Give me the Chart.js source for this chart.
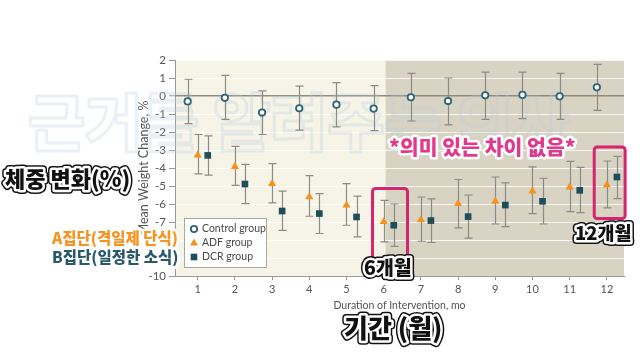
<!DOCTYPE html>
<html><head><meta charset="utf-8">
<script src="https://cdn.jsdelivr.net/npm/chart.js@4.4.1/dist/chart.umd.min.js"></script>
<style>html,body{margin:0;padding:0;background:#fff;}#wrap{width:640px;height:360px;position:relative;}</style>
</head><body><div id="wrap"><canvas id="c" width="640" height="360"></canvas></div>
<script>
const months = [1,2,3,4,5,6,7,8,9,10,11,12];
const seriesNames = ['Control group','ADF group','DCR group'];
const ctrlMean = [-0.3,-0.1,-0.92,-0.68,-0.48,-0.7,-0.07,-0.28,0.04,0.06,-0.02,0.48];
const ctrlLow  = [-1.53,-1.3,-2.14,-1.9,-1.72,-1.92,-1.39,-1.6,-1.3,-1.26,-1.3,-0.8];
const ctrlHigh = [0.93,1.15,0.28,0.55,0.74,0.58,1.26,1.0,1.33,1.33,1.26,1.76];
const adfMean = [-3.29,-3.92,-4.87,-5.61,-6.06,-6.98,-6.89,-5.98,-5.85,-5.28,-5.07,-4.94];
const adfLow  = [-4.33,-4.96,-5.94,-6.68,-7.18,-8.1,-8.07,-7.33,-7.11,-6.53,-6.42,-6.22];
const adfHigh = [-2.14,-2.8,-3.76,-4.42,-4.87,-5.8,-5.61,-4.64,-4.5,-3.94,-3.63,-3.61];
const dcrMean = [-3.3,-4.89,-6.39,-6.53,-6.72,-7.18,-6.92,-6.7,-6.06,-5.85,-5.24,-4.5];
const dcrLow  = [-4.4,-5.98,-7.46,-7.64,-7.83,-8.35,-8.14,-7.9,-7.26,-7.11,-6.48,-5.7];
const dcrHigh = [-2.22,-3.8,-5.28,-5.42,-5.56,-6.0,-5.72,-5.5,-4.83,-4.57,-3.96,-3.35];
const groupOffsets = [-0.27, 0, 0.27];
const yTicks = [2,1,0,-1,-2,-3,-4,-5,-6,-7,-8,-9,-10];
const maintenanceStart = 6.05;

const lows = [ctrlLow, adfLow, dcrLow];
const highs = [ctrlHigh, adfHigh, dcrHigh];
const means = [ctrlMean, adfMean, dcrMean];
const pts = (k) => months.map((m,i) => ({x: m + groupOffsets[k], y: means[k][i]}));

const FONT = 'Lato, "Open Sans", sans-serif';
const KFONT = '"Noto Sans CJK KR", sans-serif';

function outlined(ctx, text, x, y, size, fill, inner, outer) {
  ctx.save();
  ctx.font = '900 ' + size + 'px ' + KFONT;
  ctx.textAlign = 'left'; ctx.textBaseline = 'middle';
  ctx.lineJoin = 'round';
  if (outer) { ctx.strokeStyle = outer; ctx.lineWidth = 8; ctx.strokeText(text, x, y); }
  ctx.strokeStyle = inner; ctx.lineWidth = 5; ctx.strokeText(text, x, y);
  ctx.fillStyle = fill; ctx.fillText(text, x, y);
  ctx.restore();
}

const bgPlugin = {
  id: 'bg',
  beforeDraw(chart) {
    const {ctx, chartArea: a, scales: {x}} = chart;
    const xs = x.getPixelForValue(maintenanceStart);
    ctx.save();
    ctx.fillStyle = '#f5f4e7';
    ctx.fillRect(a.left, a.top, xs - a.left, a.bottom - a.top);
    ctx.fillStyle = '#d8d3c2';
    ctx.fillRect(xs, a.top, a.right - xs, a.bottom - a.top);
    ctx.restore();
  },
  beforeDatasetsDraw(chart) {
    const {ctx, scales: {x, y}} = chart;
    // faint watermark
    ctx.save();
    ctx.font = '900 62px ' + KFONT;
    ctx.textBaseline = 'middle';
    ctx.lineJoin = 'round';
    ctx.strokeStyle = 'rgba(185,205,222,0.3)';
    ctx.lineWidth = 3;
    ctx.strokeText('근거를 알려주는 의사', 28, 122);
    ctx.restore();
    // error bars
    ctx.save();
    ctx.strokeStyle = '#8c8b84';
    ctx.lineWidth = 1.2;
    for (let k = 0; k < 3; k++) {
      months.forEach((m, i) => {
        const px = Math.round(x.getPixelForValue(m + groupOffsets[k])) + 0.5;
        const pl = y.getPixelForValue(lows[k][i]);
        const ph = y.getPixelForValue(highs[k][i]);
        ctx.beginPath();
        ctx.moveTo(px, pl); ctx.lineTo(px, ph);
        ctx.moveTo(px - 4, pl); ctx.lineTo(px + 4, pl);
        ctx.moveTo(px - 4, ph); ctx.lineTo(px + 4, ph);
        ctx.stroke();
      });
    }
    ctx.restore();
  },
  afterDraw(chart) {
    const {ctx, chartArea: a, scales: {x, y}} = chart;
    // legend
    const lx = a.left + 9, ly = a.bottom - 58;
    ctx.save();
    ctx.fillStyle = '#ffffff';
    ctx.strokeStyle = '#a9a9a4';
    ctx.lineWidth = 1;
    ctx.fillRect(lx, ly, 82, 49);
    ctx.strokeRect(lx + 0.5, ly + 0.5, 82, 49);
    ctx.font = '10.5px ' + FONT;
    ctx.fillStyle = '#4a4a4a';
    ctx.textBaseline = 'middle';
    const rows = [ly + 11, ly + 25, ly + 39];
    seriesNames.forEach((n, i) => ctx.fillText(n, lx + 18, rows[i]));
    const mx = lx + 10;
    ctx.beginPath(); ctx.arc(mx, rows[0], 3.2, 0, Math.PI * 2);
    ctx.fillStyle = '#fff'; ctx.fill(); ctx.strokeStyle = '#2f6377'; ctx.lineWidth = 1.8; ctx.stroke();
    ctx.beginPath(); ctx.moveTo(mx, rows[1] - 4.6); ctx.lineTo(mx + 4, rows[1] + 2.4); ctx.lineTo(mx - 4, rows[1] + 2.4); ctx.closePath();
    ctx.fillStyle = '#f5921e'; ctx.fill();
    ctx.fillStyle = '#1e4d5c'; ctx.fillRect(mx - 3.3, rows[2] - 3.3, 6.6, 6.6);
    ctx.restore();

    // highlight boxes
    ctx.save();
    ctx.strokeStyle = '#d6246f';
    ctx.lineWidth = 3;
    const box = (x0, x1, y0, y1) => {
      const X0 = x.getPixelForValue(x0), X1 = x.getPixelForValue(x1);
      const Y0 = y.getPixelForValue(y0), Y1 = y.getPixelForValue(y1);
      ctx.beginPath();
      ctx.roundRect(X0, Y0, X1 - X0, Y1 - Y0, 3);
      ctx.stroke();
    };
    box(5.7, 6.64, -5.14, -9.22);
    box(11.66, 12.49, -2.83, -6.81);
    ctx.restore();

    // annotations
    outlined(ctx, '체중 변화(%)', 5, 179, 22, '#111', '#fff', '#111');
    outlined(ctx, 'A집단(격일제 단식)', 52, 238, 15.5, '#f7931e', '#fff');
    outlined(ctx, 'B집단(일정한 소식)', 52, 257, 15.5, '#2a5a6a', '#fff');
    outlined(ctx, '*의미 있는 차이 없음*', 389, 147, 20.5, '#e2398b', '#fff');
    outlined(ctx, '6개월', 364, 268, 19.5, '#111', '#fff', '#111');
    outlined(ctx, '12개월', 575, 233, 18.5, '#111', '#fff', '#111');
    outlined(ctx, '기간 (월)', 344, 328, 26, '#111', '#fff', '#111');
  }
};

new Chart(document.getElementById('c'), {
  type: 'scatter',
  data: {
    datasets: [
      {label: seriesNames[0], data: pts(0), pointStyle: 'circle', pointRadius: 3.2, pointBorderWidth: 1.8,
       backgroundColor: '#ffffff', borderColor: '#2f6377'},
      {label: seriesNames[1], data: pts(1), pointStyle: 'triangle', pointRadius: 4.7, pointBorderWidth: 0,
       backgroundColor: '#f5921e', borderColor: '#f5921e'},
      {label: seriesNames[2], data: pts(2), pointStyle: 'rect', pointRadius: 4.7, pointBorderWidth: 0,
       backgroundColor: '#1e4d5c', borderColor: '#1e4d5c'}
    ]
  },
  options: {
    responsive: false,
    animation: false,
    layout: {padding: {left: 130, right: 16, top: 60, bottom: 44}},
    plugins: {legend: {display: false}, tooltip: {enabled: false}},
    scales: {
      x: {
        type: 'linear', min: 0.39, max: 12.46,
        afterBuildTicks: (s) => { s.ticks = months.map(v => ({value: v})); },
        afterFit: (s) => { s.height = 40; },
        grid: {drawOnChartArea: false, drawTicks: true, tickLength: 4, tickColor: '#9a9a94'},
        border: {color: '#9a9a94', width: 1},
        ticks: {color: '#555', font: {family: FONT, size: 11}, padding: 3},
        title: {display: true, text: 'Duration of Intervention, mo', color: '#555',
                font: {family: FONT, size: 10.5}, padding: {top: 2, bottom: 4}}
      },
      y: {
        type: 'linear', min: -10, max: 2,
        afterBuildTicks: (s) => { s.ticks = yTicks.map(v => ({value: v})); },
        afterFit: (s) => { s.width = 45; },
        grid: {
          color: (c) => c.tick && c.tick.value === 0 ? '#8e8b80' : 'rgba(255,255,255,0.8)',
          lineWidth: (c) => c.tick && c.tick.value === 0 ? 1.6 : 1,
          drawTicks: true, tickLength: 6, tickColor: '#9a9a94', tickWidth: 1
        },
        border: {color: '#9a9a94', width: 1},
        ticks: {color: '#555', font: {family: FONT, size: 11.5}, padding: 3},
        title: {display: true, text: 'Mean Weight Change, %', color: '#555',
                font: {family: FONT, size: 12.5}, padding: {top: 6, bottom: 2}}
      }
    }
  },
  plugins: [bgPlugin]
});
</script>
</body></html>
